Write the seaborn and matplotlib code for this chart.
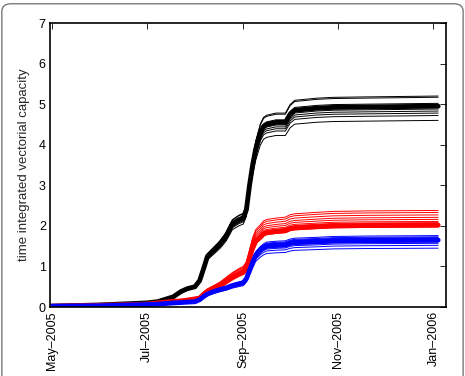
import matplotlib
matplotlib.use("Agg")
import matplotlib.pyplot as plt
from matplotlib.patches import FancyBboxPatch
import numpy as np
import pandas as pd
import seaborn as sns

# ---- data ----
dates = ["2005-05-01", "2005-06-01", "2005-07-01", "2005-07-08", "2005-07-18",
         "2005-07-23", "2005-07-27", "2005-08-01", "2005-08-04", "2005-08-07",
         "2005-08-09", "2005-08-13", "2005-08-17", "2005-08-21", "2005-08-25",
         "2005-08-29", "2005-09-01", "2005-09-03", "2005-09-05", "2005-09-07",
         "2005-09-09", "2005-09-12", "2005-09-14", "2005-09-16", "2005-09-22",
         "2005-09-28", "2005-10-01", "2005-10-04", "2005-10-18", "2005-10-29",
         "2005-11-19", "2006-01-04"]

black_mean = [0.02, 0.05, 0.10, 0.13, 0.25, 0.38, 0.45, 0.50, 0.65, 1.00,
              1.25, 1.40, 1.55, 1.75, 2.05, 2.15, 2.20, 2.40, 3.00, 3.50,
              3.90, 4.30, 4.45, 4.50, 4.55, 4.55, 4.75, 4.85, 4.90, 4.92,
              4.93, 4.95]
red_mean = [0.02, 0.04, 0.07, 0.10, 0.14, 0.15, 0.17, 0.20, 0.22, 0.33,
            0.38, 0.45, 0.52, 0.62, 0.72, 0.80, 0.85, 0.95, 1.20, 1.45,
            1.62, 1.72, 1.80, 1.83, 1.86, 1.88, 1.93, 1.95, 1.98, 2.00,
            2.01, 2.02]
blue_mean = [0.02, 0.03, 0.06, 0.07, 0.10, 0.11, 0.12, 0.13, 0.18, 0.27,
             0.32, 0.38, 0.43, 0.47, 0.53, 0.57, 0.60, 0.70, 0.90, 1.10,
             1.28, 1.40, 1.46, 1.50, 1.52, 1.53, 1.57, 1.59, 1.61, 1.63,
             1.64, 1.65]

# final levels of the thin ensemble members
black_members = [5.20, 5.17, 5.02, 4.98, 4.96, 4.93, 4.88, 4.83, 4.78, 4.72, 4.60]
red_members = [2.38, 2.33, 2.27, 2.21, 2.16, 2.11, 2.08, 2.05, 2.02, 1.99, 1.97]
blue_members = [1.76, 1.73, 1.71, 1.69, 1.67, 1.65, 1.62, 1.60, 1.57, 1.52, 1.45]

colors = {"black": "#000000", "red": "#ff0000", "blue": "#0000ff"}

# ---- build long-form table ----
d = pd.to_datetime(dates)
rows = []
for name, mean, members in [("black", black_mean, black_members),
                            ("red", red_mean, red_members),
                            ("blue", blue_mean, blue_members)]:
    mean = np.asarray(mean)
    for i, lvl in enumerate(members):
        vals = mean * (lvl / mean[-1])
        rows.append(pd.DataFrame({"date": d, "value": vals,
                                  "group": name, "member": f"{name}{i}"}))
members_df = pd.concat(rows, ignore_index=True)
mean_df = pd.concat([pd.DataFrame({"date": d, "value": m, "group": n})
                     for n, m in [("black", black_mean), ("red", red_mean),
                                  ("blue", blue_mean)]], ignore_index=True)

sns.set_style("white")
plt.rcParams["font.family"] = ["Liberation Sans", "DejaVu Sans"]

fig = plt.figure(figsize=(4.65, 3.76), dpi=100)
ax = fig.add_axes([0.1075, 0.1835, 0.8515, 0.7553])

for grp in ["black", "red", "blue"]:
    sub = members_df[members_df.group == grp]
    sns.lineplot(data=sub, x="date", y="value", units="member", estimator=None,
                 color=colors[grp], lw=0.7, ax=ax, legend=False)
    sns.lineplot(data=mean_df[mean_df.group == grp], x="date", y="value",
                 color=colors[grp], lw=3.5, ax=ax, legend=False)

ax.set_xlim(pd.Timestamp("2005-04-30"), pd.Timestamp("2006-01-09"))
ax.set_ylim(0, 7)
ax.set_yticks(range(0, 8))
ticks = pd.to_datetime(["2005-05-01", "2005-07-01", "2005-09-01",
                        "2005-11-01", "2006-01-01"])
ax.set_xticks(ticks)
ax.set_xticklabels([t.strftime("%b") + "\u2013" + t.strftime("%Y") for t in ticks],
                   rotation=90)
ax.set_xlabel("")
ax.set_ylabel("time integrated vectorial capacity", fontsize=9.5, labelpad=6)
ax.tick_params(axis="both", direction="in", length=4, width=0.6,
               top=True, right=True, labelsize=9, pad=3, colors="black")
for s in ax.spines.values():
    s.set_color("black")
    s.set_linewidth(1.2)

frame = FancyBboxPatch((0.004, -0.2), 0.992, 1.19, boxstyle="round,pad=0,rounding_size=0.02",
                       transform=fig.transFigure, fill=False, edgecolor="#7a7a7a",
                       lw=1.0, clip_on=False)
fig.patches.append(frame)

fig.savefig("out.png", dpi=100)
